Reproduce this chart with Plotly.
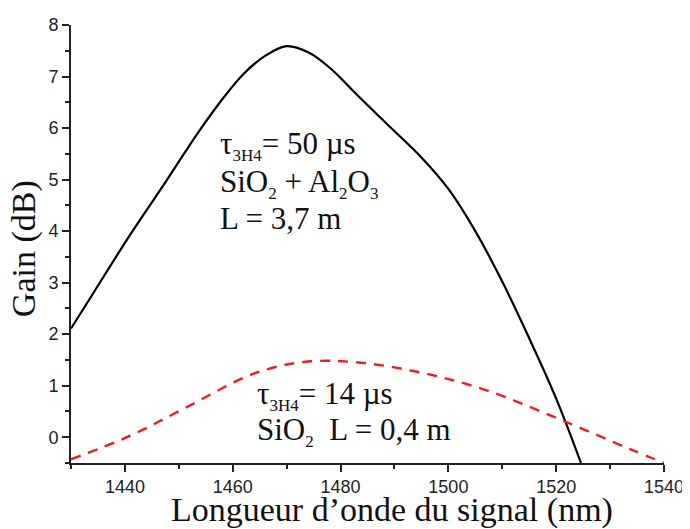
import plotly.graph_objects as go

# gain curves (wavelength in nm, gain in dB)
wl_long = [1430, 1434.1, 1440.3, 1446.5, 1453.9, 1458, 1462, 1466, 1470, 1474, 1478,
           1483, 1489, 1495, 1500, 1505, 1510, 1515, 1520, 1524.6]
gain_long = [2.11, 2.79, 3.82, 4.79, 5.96, 6.55, 7.05, 7.40, 7.59, 7.47, 7.17,
             6.65, 6.04, 5.43, 4.82, 4.00, 3.02, 1.92, 0.75, -0.5]

wl_short = [1430, 1441.0, 1451.4, 1463.8, 1473.1, 1482.4, 1494.7, 1507.1, 1521.3, 1533.7, 1540]
gain_short = [-0.43, 0.03, 0.58, 1.23, 1.46, 1.46, 1.26, 0.91, 0.32, -0.23, -0.5]

x_ticks = [1440, 1460, 1480, 1500, 1520, 1540]
y_ticks = [0, 1, 2, 3, 4, 5, 6, 7, 8]

serif = "Liberation Serif, Times New Roman, serif"
sans = "Liberation Sans, Arial, sans-serif"
SUB = '<sub><span style="font-size:17px">{}</span></sub>'

fig = go.Figure()
fig.add_trace(go.Scatter(
    x=wl_long, y=gain_long, mode="lines", line_shape="spline",
    line=dict(color="black", width=2.2), showlegend=False,
))
fig.add_trace(go.Scatter(
    x=wl_short, y=gain_short, mode="lines", line_shape="spline",
    line=dict(color="#ee1c25", width=2.4, dash="10px,8px"), showlegend=False,
))

notes = [
    (1457.3, 5.67, "τ" + SUB.format("3H4") + "= 50 µs"),
    (1457.3, 4.93, "SiO" + SUB.format("2") + " + Al" + SUB.format("2") + "O" + SUB.format("3")),
    (1457.3, 4.25, "L = 3,7 m"),
    (1464.1, 0.81, "τ" + SUB.format("3H4") + "= 14 µs"),
    (1464.1, 0.11, "SiO" + SUB.format("2") + "  L = 0,4 m"),
]
for x, y, t in notes:
    fig.add_annotation(x=x, y=y, text=t, showarrow=False, xanchor="left", yanchor="middle",
                       font=dict(family=serif, size=31, color="#111"))

# axis titles as paper annotations so the plot area stays put
fig.add_annotation(x=0.541, y=-0.108, xref="paper", yref="paper", showarrow=False,
                   text="Longueur d’onde du signal (nm)", xanchor="center", yanchor="middle",
                   font=dict(family=serif, size=34, color="#111"))
fig.add_annotation(x=-0.078, y=0.49, xref="paper", yref="paper", showarrow=False,
                   text="Gain (dB)", textangle=-90, xanchor="center", yanchor="middle",
                   font=dict(family=serif, size=34, color="#111"))

axis_common = dict(
    showline=True, linecolor="#222", linewidth=1.6, mirror=False,
    ticks="outside", ticklen=7, tickwidth=1.5, tickcolor="#222",
    showgrid=False, zeroline=False, automargin=False,
    tickfont=dict(family=sans, size=18, color="#222"),
)
fig.update_xaxes(
    range=[1430, 1540], tickvals=x_ticks,
    minor=dict(dtick=10, ticks="outside", ticklen=4, tickwidth=1.5, tickcolor="#222"),
    **axis_common,
)
fig.update_yaxes(
    range=[-0.5, 8], tickvals=y_ticks,
    minor=dict(dtick=0.5, tick0=0, ticks="outside", ticklen=4, tickwidth=1.5, tickcolor="#222"),
    **axis_common,
)
# the page body adds an 8px offset, so the figure is sized/margined to compensate
fig.update_layout(
    width=682, height=521,
    margin=dict(l=63, r=26, t=17, b=66),
    plot_bgcolor="white", paper_bgcolor="white",
)
fig.write_html("out.html")
